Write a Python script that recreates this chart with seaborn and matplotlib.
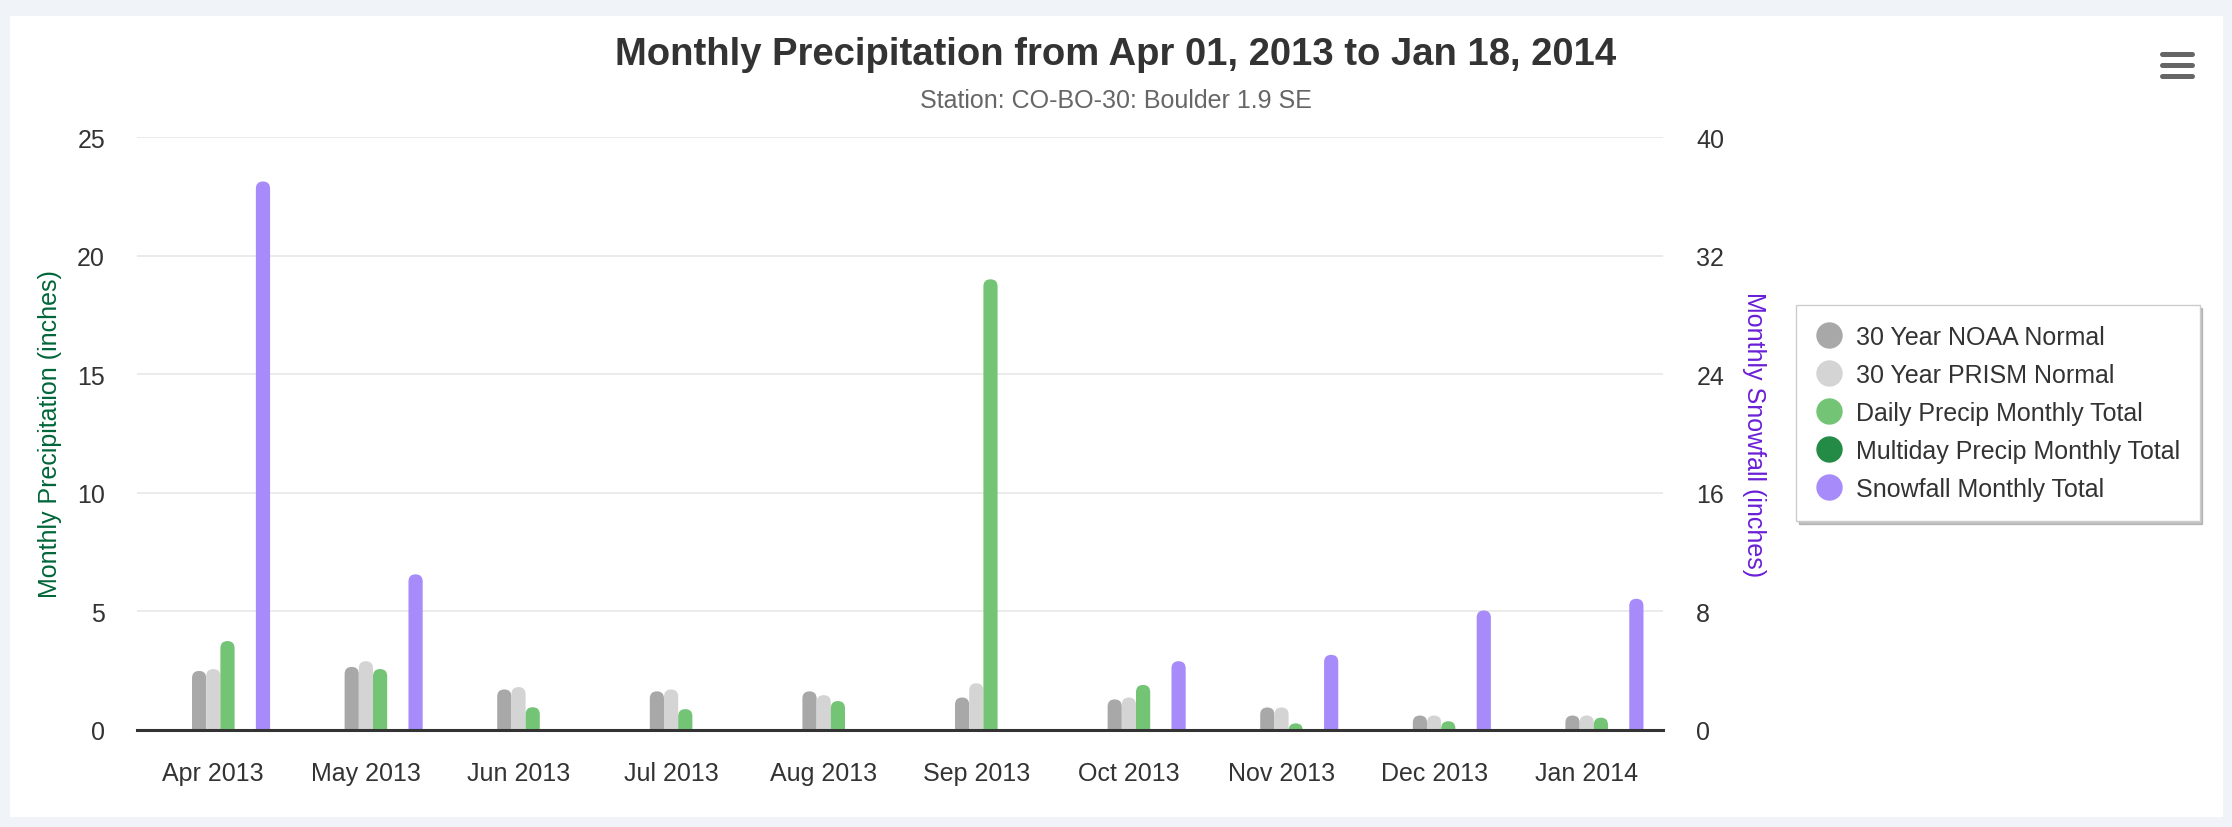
import numpy as np
import pandas as pd
import matplotlib
matplotlib.use("Agg")
import matplotlib.pyplot as plt
import seaborn as sns
from matplotlib.patches import Rectangle, FancyBboxPatch
from matplotlib.lines import Line2D

# ---------------- data ----------------
months = ["Apr 2013", "May 2013", "Jun 2013", "Jul 2013", "Aug 2013",
          "Sep 2013", "Oct 2013", "Nov 2013", "Dec 2013", "Jan 2014"]
noaa_normal = [2.49, 2.66, 1.71, 1.63, 1.63, 1.37, 1.29, 0.95, 0.61, 0.61]
prism_normal = [2.57, 2.90, 1.81, 1.71, 1.47, 1.97, 1.37, 0.95, 0.61, 0.61]
daily_total = [3.75, 2.57, 0.96, 0.88, 1.22, 19.0, 1.90, 0.28, 0.37, 0.52]
snow_months = ["Apr 2013", "May 2013", "Oct 2013", "Nov 2013", "Dec 2013", "Jan 2014"]
snow_total = [37.0, 10.5, 4.64, 5.07, 8.06, 8.85]

series_names = ["30 Year NOAA Normal", "30 Year PRISM Normal",
                "Daily Precip Monthly Total", "Multiday Precip Monthly Total",
                "Snowfall Monthly Total"]
series_colors = ["#a8a8a8", "#d4d4d4", "#74c476", "#238b45", "#a78bfa"]

title = "Monthly Precipitation from Apr 01, 2013 to Jan 18, 2014"
subtitle = "Station: CO-BO-30: Boulder 1.9 SE"
left_label = "Monthly Precipitation (inches)"
right_label = "Monthly Snowfall (inches)"
left_ticks = [0, 5, 10, 15, 20, 25]
right_ticks = [0, 8, 16, 24, 32, 40]

# ---------------- tables ----------------
precip_df = pd.DataFrame({
    "month": months * 3,
    "value": noaa_normal + prism_normal + daily_total,
    "series": [series_names[0]] * 10 + [series_names[1]] * 10 + [series_names[2]] * 10,
})
snow_df = pd.DataFrame({"month": snow_months, "value": snow_total,
                        "series": [series_names[4]] * len(snow_months)})

# slot layout within each month group (spacer slots keep the Highcharts spacing)
bar_unit = 0.093
precip_order = [" ", "  ", "   ", series_names[0], series_names[1], series_names[2],
                series_names[3], "    ", "     "]
snow_order = [" ", "  ", "   ", "    ", "     ", "      ", "       ", series_names[4]]
palette = {k: "white" for k in set(precip_order + snow_order)}
palette.update(dict(zip(series_names, series_colors)))

# ---------------- figure ----------------
sns.set_theme(style="white")
plt.rcParams["font.family"] = ["Liberation Sans", "DejaVu Sans"]

W, H = 2232, 828
fig = plt.figure(figsize=(W / 100, H / 100), dpi=100, facecolor="#f0f3f8")
fig.add_artist(Rectangle((10 / W, 1 - 818 / H), (2223 - 10) / W, (818 - 17) / H,
                         transform=fig.transFigure, facecolor="white",
                         edgecolor="none", zorder=-10))

ax_l, ax_b, ax_w, ax_h = 137, 731, 1526, 593
ax = fig.add_axes([ax_l / W, 1 - ax_b / H, ax_w / W, ax_h / H])
ax.set_facecolor("none")
ax2 = ax.twinx()

sns.barplot(data=precip_df, x="month", y="value", hue="series", order=months,
            hue_order=precip_order, palette=palette,
            width=bar_unit * len(precip_order), dodge=True,
            errorbar=None, legend=False, saturation=1, ax=ax)
sns.barplot(data=snow_df, x="month", y="value", hue="series", order=months,
            hue_order=snow_order, palette=palette,
            width=bar_unit * len(snow_order), dodge=True,
            errorbar=None, legend=False, saturation=1, ax=ax2)

ax.set_xlim(-0.5, len(months) - 0.5)
ax.set_ylim(0, 25)
ax.set_yticks(left_ticks)
ax2.set_ylim(0, 40)
ax2.set_yticks(right_ticks)


def round_tops(axis, ymax):
    xpp = len(months) / ax_w
    ypp = ymax / ax_h
    asp = ypp / xpp
    for p in list(axis.patches):
        x, y, w, h = p.get_x(), p.get_y(), p.get_width(), p.get_height()
        if not np.isfinite(h) or h <= 0:
            continue
        r = w / 2
        ry = r * asp
        fp = FancyBboxPatch((x, y - ry), w, h + ry,
                            boxstyle=f"round,pad=0,rounding_size={r}",
                            mutation_aspect=asp, facecolor=p.get_facecolor(),
                            edgecolor="none", zorder=p.get_zorder())
        p.remove()
        axis.add_patch(fp)


round_tops(ax, 25)
round_tops(ax2, 40)

# grid & spines
ax.grid(axis="y", color="#e6e6e6", linewidth=1.1)
ax.grid(axis="x", visible=False)
ax.set_axisbelow(True)
for s in ax.spines.values():
    s.set_visible(False)
for name, s in ax2.spines.items():
    s.set_visible(name == "bottom")
ax2.spines["bottom"].set_color("#333333")
ax2.spines["bottom"].set_linewidth(2.2)
ax2.grid(False)

ax.tick_params(axis="x", length=0, pad=22, labelsize=18, labelcolor="#333333")
ax.tick_params(axis="y", length=0, pad=23, labelsize=18, labelcolor="#333333")
ax2.tick_params(axis="y", length=0, pad=24, labelsize=18, labelcolor="#333333")
ax.set_xlabel("")
ax2.set_xlabel("")

ax.set_ylabel(left_label, fontsize=18, color="#00663a", va="center")
ax.yaxis.set_label_coords(-0.057, 0.5)
ax2.set_ylabel(right_label, fontsize=18, color="#6a1fd6", rotation=270, va="center")
ax2.yaxis.set_label_coords(1.0596, 0.5)

# titles
fig.text(0.5, 1 - 55 / H, title, ha="center", va="center", fontsize=27.5,
         fontweight="bold", color="#333333")
fig.text(0.5, 1 - 101 / H, subtitle, ha="center", va="center", fontsize=18,
         color="#666666")

# legend
handles = [Line2D([0], [0], marker="o", linestyle="", markersize=18,
                  markerfacecolor=c, markeredgecolor=c) for c in series_colors]
leg = fig.legend(handles, series_names, loc="upper left",
                 bbox_to_anchor=(1796 / W, 1 - 306 / H), frameon=True,
                 fontsize=18, handlelength=1.0, handletextpad=0.58,
                 borderpad=0.8, labelspacing=0.56, borderaxespad=0,
                 fancybox=False, edgecolor="#cccccc",
                 shadow={"color": "#888888", "alpha": 0.5})
leg.get_frame().set_linewidth(1.0)
for t in leg.get_texts():
    t.set_color("#333333")

# export menu icon
for yy in (54.5, 65.5, 76.5):
    fig.add_artist(Line2D([2162 / W, 2192 / W], [1 - yy / H] * 2,
                          transform=fig.transFigure, color="#666666",
                          linewidth=3.6, solid_capstyle="round"))

fig.savefig("out.png", dpi=100, facecolor=fig.get_facecolor())
